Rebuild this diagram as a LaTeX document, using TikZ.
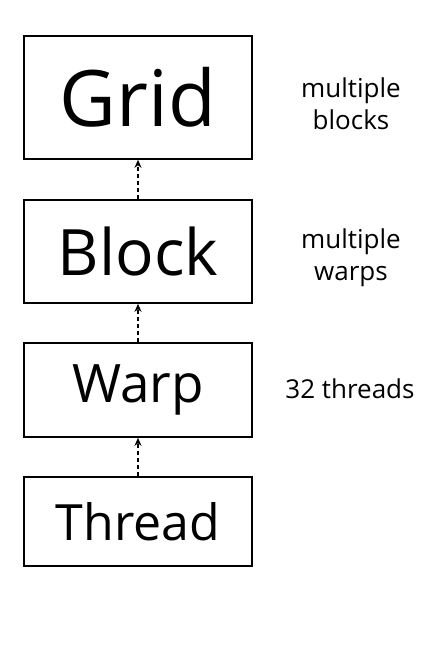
\documentclass[tikz,border=0pt]{standalone}
\usepackage{fontspec}
\setmainfont{Open Sans}
\usetikzlibrary{arrows.meta}

\begin{document}
\begin{tikzpicture}[x=1pt,y=-1pt]
    \useasboundingbox (0,0) rectangle (445,668);
    \tikzset{level/.style={draw, line width=1.6pt, minimum width=228pt, inner sep=0pt},
             note/.style={align=center, font=\fontsize{26}{32}\selectfont},
             up/.style={-{Stealth[length=8pt,width=7pt,inset=2.5pt]}, dash pattern=on 4pt off 3pt, line width=1.2pt}}
    % the four levels
    \node [level, minimum height=123pt, font=\fontsize{78}{80}\selectfont] (grid) at (138,97.5) {Grid};
    \node [level, minimum height=103pt, font=\fontsize{64}{70}\selectfont] (block) at (138,251.5) {Block};
    \node [level, minimum height=94pt, font=\fontsize{53}{56}\selectfont] (warp) at (138,390) {Warp};
    \node [level, minimum height=89pt, font=\fontsize{50}{52}\selectfont] (thread) at (138,521.5) {Thread};
    % arrows between levels
    \draw [up] (block.north) -- (grid.south);
    \draw [up] (warp.north) -- (block.south);
    \draw [up] (thread.north) -- (warp.south);
    % notes on the right
    \node [note] (gridnote) at (351,104) {multiple\\blocks};
    \node [note] (blocknote) at (351,258) {multiple\\warps};
    \node [note] (warpnote) at (350,389) {32 threads};
\end{tikzpicture}
\end{document}
